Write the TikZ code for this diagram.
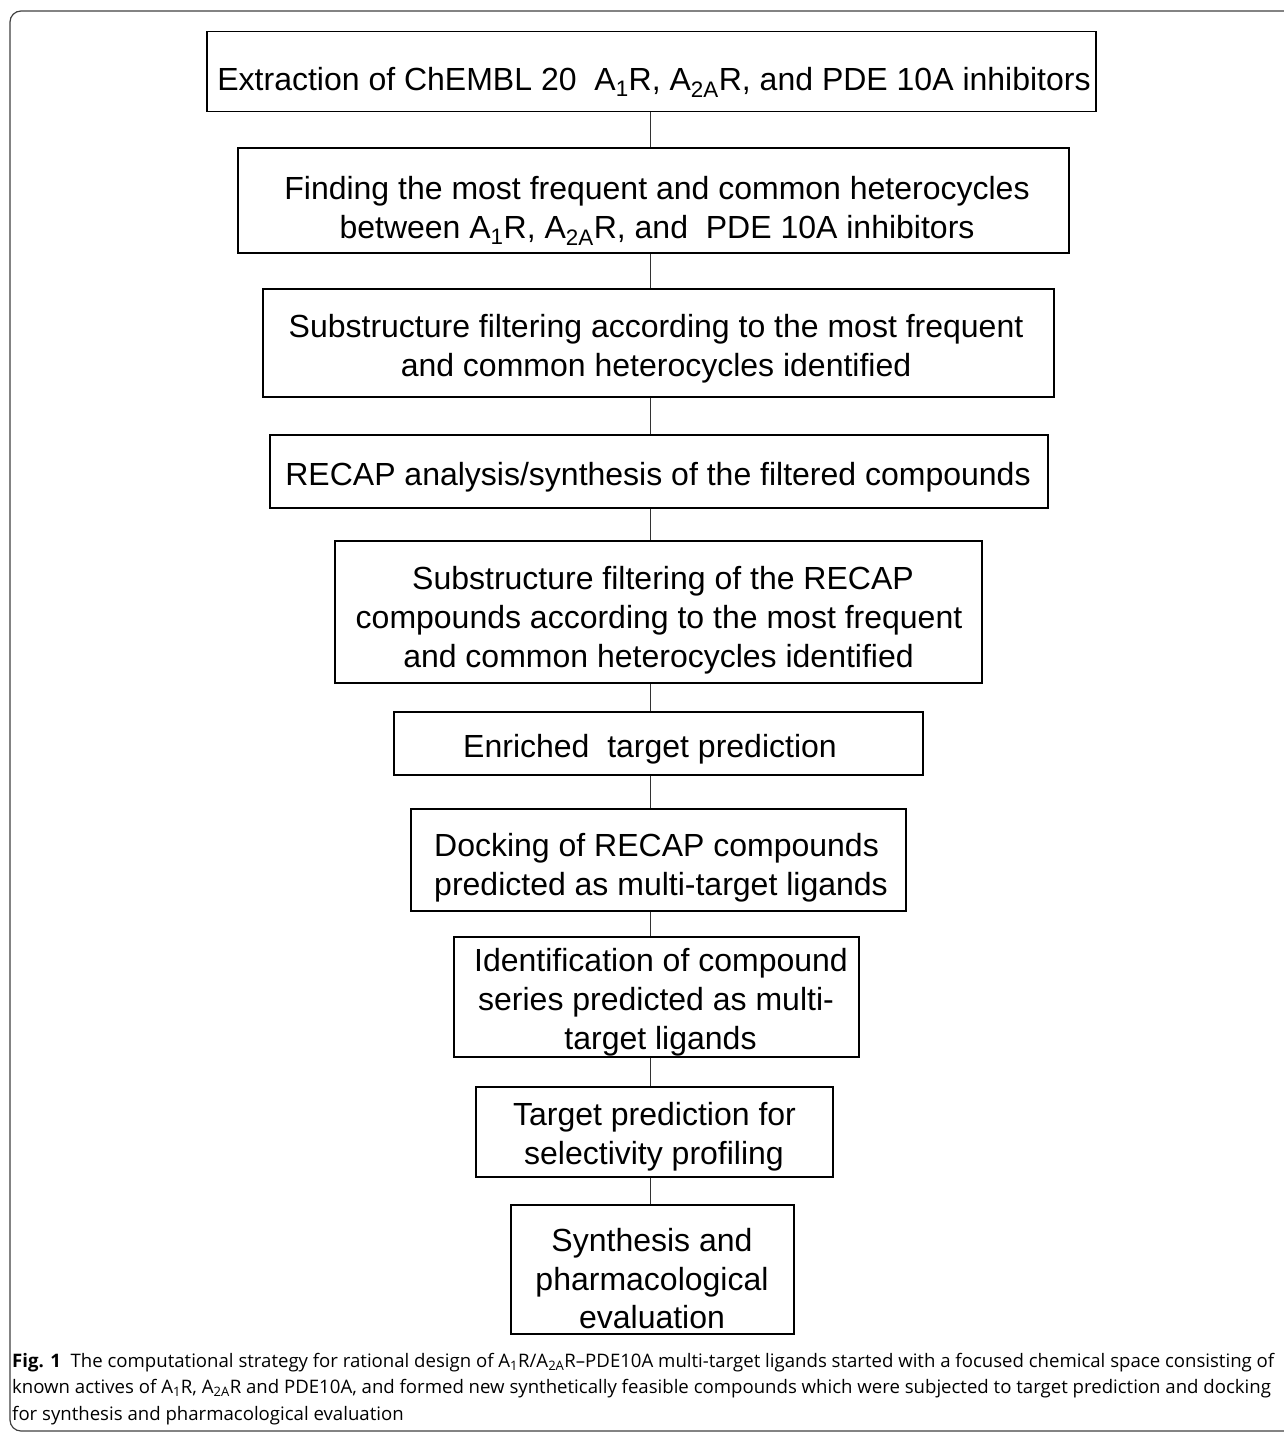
\documentclass[tikz,border=0pt]{standalone}
\usepackage{fontspec}
\setmainfont{Liberation Sans}
\newfontfamily\capfont{Open Sans}
\begin{document}
\begin{tikzpicture}[x=1pt,y=-1pt,
  flowbox/.style={draw=black,line width=1.8pt,fill=white,inner sep=0pt},
  boxtext/.style={anchor=base,inner sep=0pt,font=\fontsize{32}{39}\selectfont},
  conn/.style={draw=black!80,line width=1pt},
  captext/.style={anchor=base west,inner sep=0pt,font=\capfont\fontsize{18.6}{26}\selectfont}]
\useasboundingbox (0,0) rectangle (1284,1432);
\begin{scope}
\clip (0,0) rectangle (1284,1432);
\draw[black!75,line width=1.2pt,rounded corners=11pt] (10,11) rectangle (1300,1431);
\end{scope}
\coordinate (cx) at (650,0);
% boxes
\node[flowbox,minimum width=889pt,minimum height=80pt] (b1) at (651.5,71.5) {};
\node[flowbox,minimum width=831pt,minimum height=105pt] (b2) at (653.5,200.5) {};
\node[flowbox,minimum width=791pt,minimum height=108pt] (b3) at (658.5,343) {};
\node[flowbox,minimum width=778pt,minimum height=73pt] (b4) at (659,471.5) {};
\node[flowbox,minimum width=647pt,minimum height=142pt] (b5) at (658.5,612) {};
\node[flowbox,minimum width=529pt,minimum height=63pt] (b6) at (658.5,743.5) {};
\node[flowbox,minimum width=495pt,minimum height=102pt] (b7) at (658.5,860) {};
\node[flowbox,minimum width=405pt,minimum height=120pt] (b8) at (656.5,997) {};
\node[flowbox,minimum width=357pt,minimum height=90pt] (b9) at (654.5,1132) {};
\node[flowbox,minimum width=283pt,minimum height=129pt] (b10) at (652.5,1269.5) {};
% texts
\node[boxtext] (t1) at (654,90) {Extraction of ChEMBL 20\ \ A\textsubscript{1}R, A\textsubscript{2A}R, and PDE 10A inhibitors};
\node[boxtext] (t2a) at (657,199) {Finding the most frequent and common heterocycles};
\node[boxtext] (t2b) at (657,238) {between A\textsubscript{1}R, A\textsubscript{2A}R, and\ \ PDE 10A inhibitors};
\node[boxtext] (t3a) at (656,337) {Substructure filtering according to the most frequent};
\node[boxtext] (t3b) at (656,376) {and common heterocycles identified};
\node[boxtext] (t4) at (658,485) {RECAP analysis/synthesis of the filtered compounds};
\node[boxtext] (t5a) at (663,589) {Substructure filtering of the RECAP};
\node[boxtext] (t5b) at (659,628) {compounds according to the most frequent};
\node[boxtext] (t5c) at (658.5,667) {and common heterocycles identified};
\node[boxtext] (t6) at (650,757) {Enriched\ \ target prediction};
\node[boxtext] (t7a) at (656.5,856) {Docking of RECAP compounds};
\node[boxtext] (t7b) at (661,895) {predicted as multi-target ligands};
\node[boxtext] (t8a) at (661,971) {Identification of compound};
\node[boxtext] (t8b) at (656,1010) {series predicted as multi-};
\node[boxtext] (t8c) at (660.5,1049) {target ligands};
\node[boxtext] (t9a) at (654.5,1125) {Target prediction for};
\node[boxtext] (t9b) at (654,1164) {selectivity profiling};
\node[boxtext] (t10a) at (652,1251) {Synthesis and};
\node[boxtext] (t10b) at (652,1290) {pharmacological};
\node[boxtext] (t10c) at (652,1328) {evaluation};
% connectors
\foreach \a/\b in {b1/b2,b2/b3,b3/b4,b4/b5,b5/b6,b6/b7,b7/b8,b8/b9,b9/b10}
  \draw[conn] (\a.south -| cx) -- (\b.north -| cx);
% caption
\node[captext] (cap1) at (12,1367) {\textbf{Fig. 1}\ \ The computational strategy for rational design of A\textsubscript{1}R/A\textsubscript{2A}R–PDE10A multi-target ligands started with a focused chemical space consisting of};
\node[captext] (cap2) at (12,1393.5) {known actives of A\textsubscript{1}R, A\textsubscript{2A}R and PDE10A, and formed new synthetically feasible compounds which were subjected to target prediction and docking};
\node[captext] (cap3) at (12,1420) {for synthesis and pharmacological evaluation};
\end{tikzpicture}
\end{document}
